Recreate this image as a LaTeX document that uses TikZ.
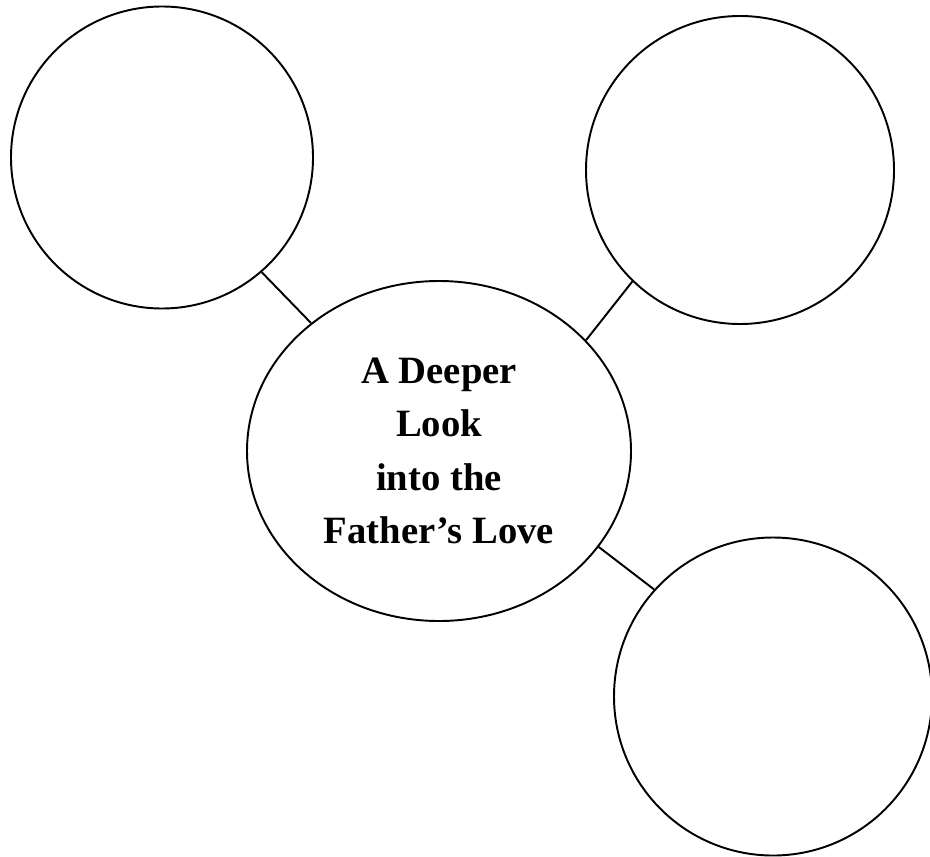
\documentclass[tikz,border=0pt]{standalone}
\usepackage{fontspec}
\setmainfont{Liberation Serif}
\usetikzlibrary{shapes.geometric}

\begin{document}
\begin{tikzpicture}[
    bubble/.style={draw, circle, line width=1.1pt, inner sep=0pt},
    hub/.style={draw, ellipse, line width=1.1pt, inner sep=0pt, minimum width=7.68cm, minimum height=6.8cm,
      align=center, font=\bfseries\fontsize{22}{30.5}\selectfont},
    link/.style={line width=1.1pt},
]
\useasboundingbox (0,0) rectangle (18.6,-17.12);
\node[hub] (father) at (8.78,-9.02) {A Deeper\\Look\\into the\\Father’s Love};
\node[bubble, minimum size=6.04cm] (topleft) at (3.24,-3.15) {};
\node[bubble, minimum size=6.16cm] (topright) at (14.8,-3.4) {};
\node[bubble, minimum size=6.36cm] (bottomright) at (15.46,-13.93) {};
\draw[link] (topleft.-49) -- (father.135);
\draw[link] (topright.226) -- (father.37);
\draw[link] (father.-31) -- (bottomright.138);
\end{tikzpicture}
\end{document}
